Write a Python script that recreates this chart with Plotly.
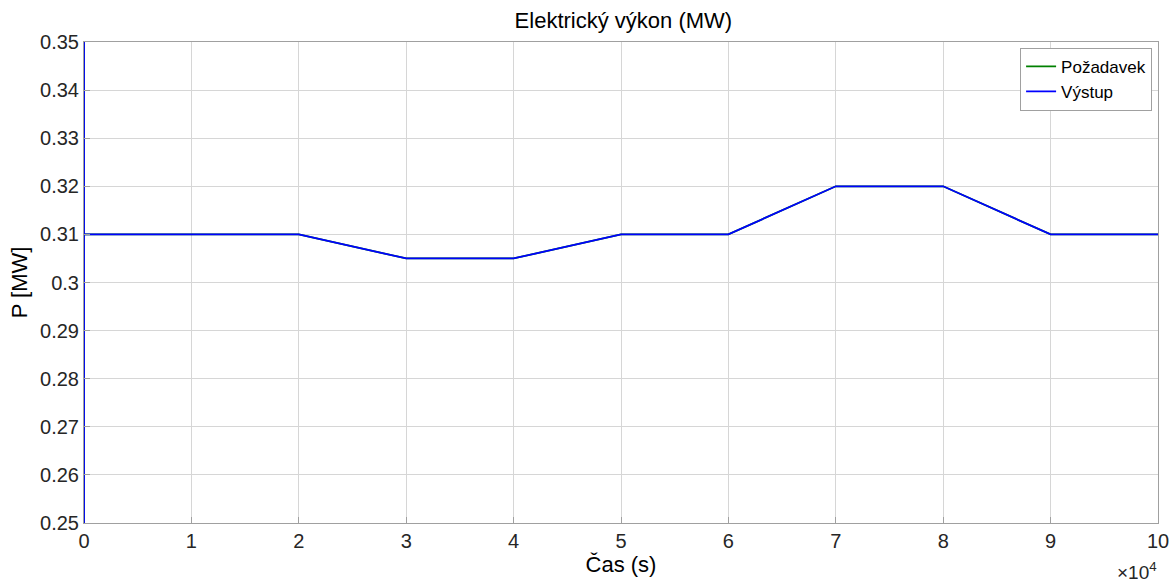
import plotly.graph_objects as go

# Data
time_s = [0, 0, 0, 20000, 30000, 40000, 50000, 60000, 70000, 80000, 90000, 100000]
pozadavek = [0.0, 0.40, 0.31, 0.31, 0.305, 0.305, 0.31, 0.31, 0.32, 0.32, 0.31, 0.31]
vystup = [0.0, 0.40, 0.31, 0.31, 0.305, 0.305, 0.31, 0.31, 0.32, 0.32, 0.31, 0.31]

x_tickvals = [0, 10000, 20000, 30000, 40000, 50000, 60000, 70000, 80000, 90000, 100000]
x_ticktext = ["0", "1", "2", "3", "4", "5", "6", "7", "8", "9", "10"]
y_tickvals = [0.25, 0.26, 0.27, 0.28, 0.29, 0.30, 0.31, 0.32, 0.33, 0.34, 0.35]
y_ticktext = ["0.25", "0.26", "0.27", "0.28", "0.29", "0.3", "0.31", "0.32", "0.33", "0.34", "0.35"]

FONT = "Liberation Sans, Arial, Helvetica, sans-serif"
TXT = "#262626"

fig = go.Figure()
fig.add_trace(go.Scatter(x=time_s, y=pozadavek, mode="lines", name="Požadavek",
                         line=dict(color="#008000", width=1.8)))
fig.add_trace(go.Scatter(x=time_s, y=vystup, mode="lines", name="Výstup",
                         line=dict(color="#0000ff", width=1.8)))

axis_common = dict(showgrid=True, gridcolor="#d6d6d6", gridwidth=1,
                   showline=True, linecolor="#a0a0a0", linewidth=1, mirror=True,
                   zeroline=False, ticks="inside", ticklen=6, tickcolor="#a0a0a0",
                   automargin=False,
                   tickfont=dict(family=FONT, size=20, color=TXT))

fig.update_layout(
    width=1174, height=585,
    margin=dict(l=84, r=16, t=42, b=62),
    paper_bgcolor="white", plot_bgcolor="white",
    font=dict(family=FONT, color=TXT),
    title=dict(text="Elektrický výkon (MW)", x=0.531, xanchor="center", y=0.965, yanchor="middle",
               font=dict(family=FONT, size=22, color="#000000")),
    xaxis=dict(range=[0, 100000], tickvals=x_tickvals, ticktext=x_ticktext,
               title=dict(text="Čas (s)", font=dict(family=FONT, size=22, color="#000000"), standoff=2),
               **axis_common),
    yaxis=dict(range=[0.25, 0.35], tickvals=y_tickvals, ticktext=y_ticktext,
               title=dict(text="P [MW]", font=dict(family=FONT, size=22, color="#000000"), standoff=6),
               **axis_common),
    legend=dict(x=0.9945, xanchor="right", y=0.988, yanchor="top",
                bgcolor="white", bordercolor="#a0a0a0", borderwidth=1,
                font=dict(family=FONT, size=17, color="#000000"),
                itemwidth=30, tracegroupgap=0),
    showlegend=True,
)

fig.add_annotation(text="×10<sup>4</sup>", xref="paper", yref="paper", x=1.0, y=-0.1268,
                   xanchor="right", yanchor="bottom", showarrow=False, borderpad=0,
                   font=dict(family=FONT, size=19, color=TXT))

fig.write_html("out.html")
